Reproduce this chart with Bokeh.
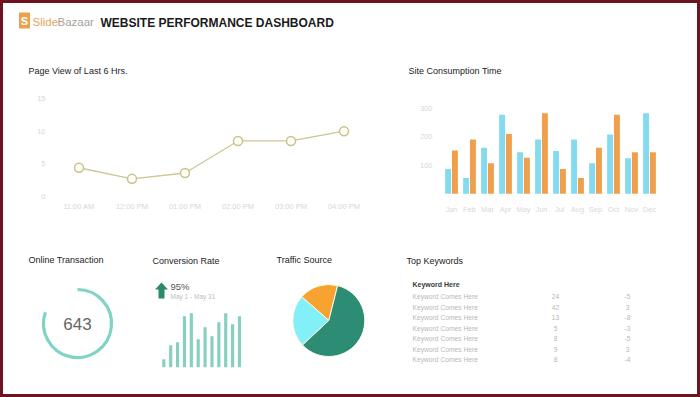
import math
from bokeh.plotting import figure
from bokeh.models import Range1d, FactorRange, Label, FixedTicker, ColumnDataSource
from bokeh.layouts import column, row
from bokeh.transform import dodge
from bokeh.core.properties import value
from bokeh.embed import file_html
from bokeh.resources import INLINE

# ---------------- data ----------------
hours = ["11:00 AM", "12:00 PM", "01:00 PM", "02:00 PM", "03:00 PM", "04:00 PM"]
page_views = [4.4, 2.7, 3.6, 8.5, 8.5, 10.0]
page_view_ticks = [0, 5, 10, 15]

months = ["Jan", "Feb", "Mar", "Apr", "May", "Jun", "Jul", "Aug", "Sep", "Oct", "Nov", "Dec"]
consumption_new = [87, 55, 161, 277, 146, 190, 150, 190, 107, 208, 125, 282]
consumption_old = [152, 190, 107, 210, 126, 282, 87, 55, 161, 277, 146, 146]
consumption_ticks = [100, 200, 300]

online_transactions = 643
transaction_target = 800

conversion_rate = 95
conversion_period = "May 1 - May 31"
conversion_bars = [8, 22, 25, 51, 54, 28, 40, 31, 45, 54, 43, 51]

traffic_sources = ["Social", "Referral", "Direct"]
traffic_share = [17.5, 23.4, 59.1]
traffic_colors = ["#f8a232", "#82f0f6", "#2c8c74"]

keywords = ["Keyword Comes Here"] * 7
keyword_counts = ["24", "42", "13", "5", "8", "9", "8"]
keyword_changes = ["-5", "3", "-8", "-3", "-5", "3", "-4"]

FONT = "Liberation Sans"
TITLE_COLOR = "#222222"
TITLE_SIZE = "9px"
FRAME_COLOR = "#6e1420"


def base_fig(w, h, xr, yr, **kw):
    p = figure(width=w, height=h, x_range=xr, y_range=yr,
               output_backend="svg", toolbar_location=None, **kw)
    p.grid.visible = False
    p.outline_line_color = None
    p.background_fill_color = "white"
    p.border_fill_color = "white"
    return p


def pix_panel(left, top, w, h):
    # data coords: x = image x, y = -image y
    return base_fig(w, h, Range1d(left, left + w), Range1d(-(top + h), -top),
                    x_axis_type=None, y_axis_type=None, min_border=0)


def add_label(p, x, y, text, size=TITLE_SIZE, color=TITLE_COLOR, align="left",
              style="normal", font=FONT):
    p.add_layout(Label(x=x, y=y, text=text, text_font=font, text_font_size=size,
                       text_color=color, text_align=align, text_baseline="middle",
                       text_font_style=style))


def style_axes(p, color, standoff_x, standoff_y):
    for ax in (p.xaxis, p.yaxis):
        ax.axis_line_color = None
        ax.major_tick_line_color = None
        ax.minor_tick_line_color = None
        ax.major_tick_out = 0
        ax.major_tick_in = 0
        ax.minor_tick_out = 0
        ax.major_label_text_color = color
        ax.major_label_text_font = FONT
        ax.major_label_text_font_size = "7.5px"
    p.xaxis.major_label_standoff = standoff_x
    p.yaxis.major_label_standoff = standoff_y


# ---------------- header (with the two upper panel titles) ----------------
hdr = pix_panel(3, 3, 694, 82)
hdr.rect(x=[24], y=[-20], width=11, height=16, fill_color="#ef9f4b", line_color=None)
add_label(hdr, 24, -20, "S", size="11px", color="white", align="center", style="bold")
add_label(hdr, 32, -21, "Slide", size="11.5px", color="#e9a35c")
add_label(hdr, 57, -21, "Bazaar", size="11.5px", color="#a8a29a")
add_label(hdr, 100, -22, "WEBSITE PERFORMANCE DASHBOARD", size="12px", color="#1a1a1a", style="bold")
add_label(hdr, 28, -70, "Page View of Last 6 Hrs.")
add_label(hdr, 408, -70, "Site Consumption  Time")

# shared frame rows for the two upper charts (image y 98 .. 196)
TOP_B, BOT_B = 13, 44

# ---------------- line chart ----------------
lc = base_fig(387, 155, FactorRange(factors=hours), Range1d(0, 15),
              min_border_left=49, min_border_right=20, min_border_top=TOP_B, min_border_bottom=BOT_B)
lc.line(hours, page_views, line_color="#cbc796", line_width=1.3)
lc.scatter(hours, page_views, size=9, fill_color="#fffff6", line_color="#c8c38c", line_width=1.5)
lc.yaxis.ticker = FixedTicker(ticks=page_view_ticks)
style_axes(lc, "#d6d6d6", 5, 7)

# ---------------- bar chart ----------------
# value 0 sits at image y 193.3 and 300 at 107.7 inside the 98..196 frame
bpx = (193.3 - 107.7) / 300.0
b_lo = -(196 - 193.3) / bpx
b_hi = (193.3 - 98) / bpx
bsrc = ColumnDataSource(dict(months=months, new=consumption_new, old=consumption_old))
bc = base_fig(307, 155, FactorRange(factors=months), Range1d(b_lo, b_hi),
              min_border_left=52, min_border_right=39, min_border_top=TOP_B, min_border_bottom=BOT_B)
bc.vbar(x=dodge("months", -0.19, range=bc.x_range), top="new", bottom=0, width=0.33, source=bsrc,
        fill_color="#84dbef", line_color=None)
bc.vbar(x=dodge("months", 0.19, range=bc.x_range), top="old", bottom=0, width=0.33, source=bsrc,
        fill_color="#f0a04c", line_color=None)
bc.yaxis.ticker = FixedTicker(ticks=consumption_ticks)
style_axes(bc, "#d9d9d9", 8, 10)

# ---------------- online transaction ----------------
ot = pix_panel(3, 240, 137, 154)
add_label(ot, 28, -259, "Online Transaction")
frac = online_transactions / transaction_target
ot.arc(x=[77], y=[-323], radius=34, start_angle=math.pi / 2,
       end_angle=math.pi / 2 - frac * 2 * math.pi, direction="clock",
       line_color="#80d4c5", line_width=3.2)
add_label(ot, 77, -323, str(online_transactions), size="17px", color="#666666", align="center")

# ---------------- conversion rate ----------------
CSTEP = 6.88
cx0 = -(163.3 - 140) / CSTEP
cx1 = cx0 + 122 / CSTEP
cr = base_fig(122, 154, Range1d(cx0, cx1), Range1d(-(394 - 366.7), 366.7 - 240),
              x_axis_type=None, y_axis_type=None, min_border=0)


def CX(img_x):
    return cx0 + (img_x - 140) / CSTEP


def CY(img_y):
    return 366.7 - img_y


add_label(cr, CX(152), CY(260), "Conversion Rate")
cr.vbar(x=list(range(len(conversion_bars))), top=conversion_bars, bottom=0, width=0.46,
        fill_color="#86cfc1", line_color=None)
arrow_x = [CX(v) for v in (161, 167.5, 164, 164, 158, 158, 154.5)]
arrow_y = [CY(v) for v in (282, 289, 289, 298, 298, 289, 289)]
cr.patch(arrow_x, arrow_y, fill_color="#2b8a6c", line_color=None)
add_label(cr, CX(170), CY(286), f"{conversion_rate}%", size="9.5px", color="#555555")
add_label(cr, CX(170), CY(295.5), conversion_period, size="6.5px", color="#bdbdbd")

# ---------------- traffic source ----------------
ts = pix_panel(262, 240, 133, 154)
add_label(ts, 276, -259, "Traffic Source")
base = math.radians(75.8)
tot = sum(traffic_share)
starts, ends = [], []
acc = base
for s in traffic_share:
    starts.append(acc)
    acc += s / tot * 2 * math.pi
    ends.append(acc)
tsrc = ColumnDataSource(dict(src=traffic_sources, start=starts, end=ends, color=traffic_colors))
ts.wedge(x=328.3, y=-320, radius=36, start_angle="start", end_angle="end",
         fill_color="color", line_color="#fffbe8", line_width=1, source=tsrc)

# ---------------- top keywords ----------------
KSTEP = 10.5
ky0 = (240 - 296) / KSTEP
ky1 = (394 - 296) / KSTEP
kw = base_fig(302, 154, Range1d(395, 697), Range1d(ky1, ky0),
              x_axis_type=None, y_axis_type=None, min_border=0)
add_label(kw, 406, (260 - 296) / KSTEP, "Top Keywords")
add_label(kw, 412, (284 - 296) / KSTEP, "Keyword Here", size="7px", color="#3a3a3a", style="bold")
rows_idx = list(range(len(keywords)))
ksrc = ColumnDataSource(dict(r=rows_idx, k=keywords, c=keyword_counts, d=keyword_changes))
for xx, col, al in ((412, "k", "left"), (555, "c", "center"), (627, "d", "center")):
    kw.text(x=xx, y="r", text=col, source=ksrc, text_font=value(FONT), text_font_size="6.7px",
            text_color="#b8b8b8", text_baseline="middle", text_align=al)

layout = column(
    hdr,
    row(lc, bc),
    row(ot, cr, ts, kw),
    styles={"border": f"3px solid {FRAME_COLOR}", "box-sizing": "content-box"},
)

open("out.html", "w").write(file_html(layout, INLINE))
